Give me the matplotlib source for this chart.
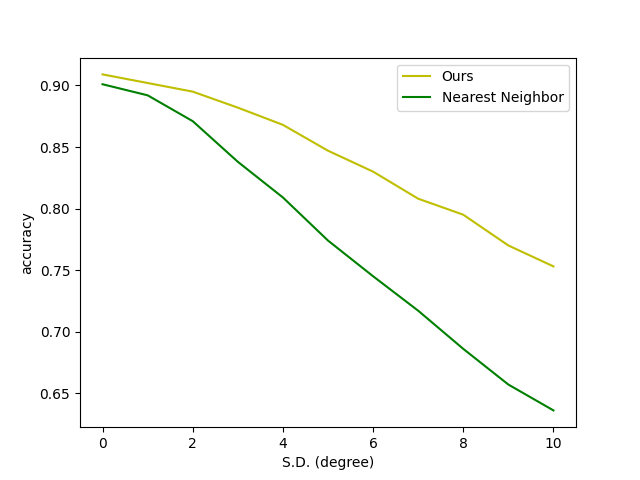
import matplotlib
matplotlib.use("Agg")
import matplotlib.pyplot as plt

# standard deviation of noise (degree)
sd = [0, 1, 2, 3, 4, 5, 6, 7, 8, 9, 10]
ours = [0.909, 0.902, 0.895, 0.882, 0.868, 0.847, 0.830, 0.808, 0.795, 0.770, 0.753]
nearest = [0.901, 0.892, 0.871, 0.838, 0.809, 0.774, 0.745, 0.717, 0.686, 0.657, 0.636]

plt.figure(figsize=(6.4, 4.8), dpi=100)
plt.plot(sd, ours, 'y', label="Ours")
plt.plot(sd, nearest, 'g', label="Nearest Neighbor")
plt.xlabel("S.D. (degree)")
plt.ylabel("accuracy")
plt.legend()
plt.savefig("out.png")
